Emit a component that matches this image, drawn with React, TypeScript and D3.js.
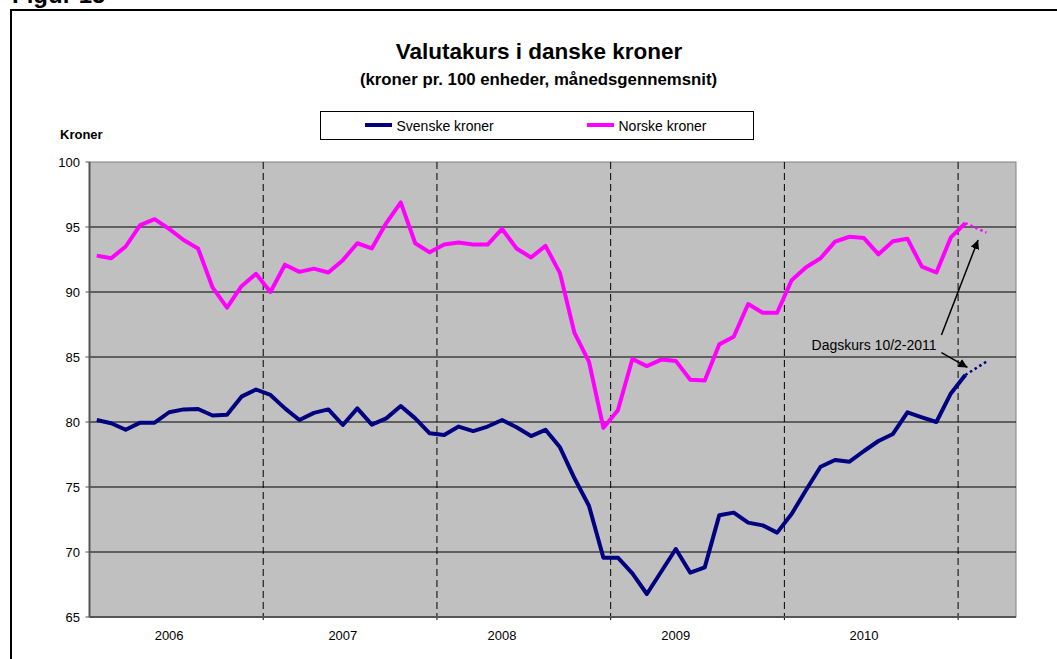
import React from 'react';
import * as d3 from 'd3';

// ---- data ----
const seriesNames = ['Svenske kroner', 'Norske kroner'];
const seriesColors = ['#000080', '#FF00FF'];
const years = ['2006', '2007', '2008', '2009', '2010'];
const yearLabelMonth = [5, 17, 28, 40, 53];
const yTicks = [65, 70, 75, 80, 85, 90, 95, 100];
const yearBoundaries = [12, 24, 36, 48, 60];

const sek = [
  80.15, 79.9, 79.4, 79.95, 79.95, 80.75, 80.97, 81.0, 80.5, 80.55, 81.95, 82.5,
  82.08, 81.05, 80.15, 80.7, 80.97, 79.77, 81.05, 79.8, 80.28, 81.23, 80.28, 79.13,
  79.0, 79.65, 79.3, 79.65, 80.15, 79.6, 78.92, 79.4, 78.05, 75.67, 73.56, 69.56,
  69.56, 68.36, 66.77, 68.5, 70.23, 68.41, 68.82, 72.82, 73.03, 72.26, 72.05, 71.49,
  72.92, 74.77, 76.56, 77.08, 76.95, 77.77, 78.54, 79.08, 80.74, 80.36, 80.0, 82.2,
  83.62,
];
const nok = [
  92.8, 92.6, 93.5, 95.15, 95.6, 94.85, 94.0, 93.35, 90.35, 88.8, 90.45, 91.4,
  90.0, 92.1, 91.55, 91.8, 91.5, 92.45, 93.75, 93.35, 95.3, 96.9, 93.75, 93.05,
  93.65, 93.8, 93.65, 93.65, 94.85, 93.35, 92.65, 93.55, 91.45, 86.85, 84.65, 79.55,
  80.9, 84.85, 84.3, 84.8, 84.7, 83.25, 83.2, 85.97, 86.56, 89.08, 88.4, 88.4,
  90.9, 91.9, 92.6, 93.87, 94.25, 94.15, 92.9, 93.9, 94.1, 91.95, 91.5, 94.2,
  95.3,
];
const dagskursPos = 61.46; // month index of 10/2-2011
const dagskurs = [84.64, 94.56];
const annotationText = 'Dagskurs 10/2-2011';

const totalMonths = 64;

export default function App() {
  const W = 1057, H = 659;
  const left = 89.5, right = 1016, top = 162, bottom = 617;
  const x = d3.scaleLinear().domain([0, totalMonths]).range([left, right]);
  const y = d3.scaleLinear().domain([65, 100]).range([bottom, top]);
  const cx = (i: number) => x(i + 0.5);
  const line = d3.line<[number, number]>().x(d => cx(d[0])).y(d => y(d[1]));
  const series = [sek, nok];
  const font = 'Arial, "Liberation Sans", Helvetica, sans-serif';

  return (
    <svg width={W} height={H} style={{ position: 'absolute', left: 0, top: 0, background: '#fff' }} fontFamily={font}>
      <defs>
        <marker id="arr" viewBox="0 0 10 10" refX="10" refY="5" markerWidth="9" markerHeight="9" markerUnits="userSpaceOnUse" orient="auto">
          <path d="M0,0 L10,5 L0,10 z" fill="#000" />
        </marker>
      </defs>
      <text x={12} y={2.5} fontSize={24} fontWeight="bold">Figur 15</text>
      <rect x={11} y={10} width={1100} height={700} fill="#fff" stroke="#000" strokeWidth={2} />

      <text x={539} y={59} textAnchor="middle" fontSize={22.5} fontWeight="bold">Valutakurs i danske kroner</text>
      <text x={538.5} y={85} textAnchor="middle" fontSize={16.8} fontWeight="bold">(kroner pr. 100 enheder, månedsgennemsnit)</text>

      {/* legend */}
      <rect x={320.5} y={111.5} width={433} height={28} fill="#fff" stroke="#000" strokeWidth={1} />
      {seriesNames.map((n, k) => {
        const lx = k === 0 ? 365 : 587;
        return (
          <g key={n}>
            <line x1={lx} x2={lx + 27} y1={125} y2={125} stroke={seriesColors[k]} strokeWidth={4} />
            <text x={lx + 31.5} y={130.5} fontSize={14}>{n}</text>
          </g>
        );
      })}

      <text x={60} y={139} fontSize={13} fontWeight="bold">Kroner</text>

      {/* plot area */}
      <rect x={left} y={top} width={right - left} height={bottom - top} fill="#C0C0C0" stroke="#808080" strokeWidth={1} />
      {yTicks.filter(t => t > 65 && t < 100).map(t => (
        <line key={t} x1={left} x2={right} y1={y(t)} y2={y(t)} stroke="#000" strokeWidth={1} />
      ))}
      {yearBoundaries.map(b => (
        <line key={b} x1={x(b)} x2={x(b)} y1={top} y2={bottom + 4} stroke="#000" strokeWidth={1} strokeDasharray="7,4" />
      ))}
      {/* axes */}
      <line x1={left} x2={left} y1={top} y2={bottom} stroke="#555" strokeWidth={2} />
      <line x1={left} x2={right} y1={bottom} y2={bottom} stroke="#555" strokeWidth={2} />
      {yTicks.map(t => (
        <g key={t}>
          <line x1={left - 4} x2={left} y1={y(t)} y2={y(t)} stroke="#555" strokeWidth={1} />
          <text x={80} y={y(t) + 4.5} textAnchor="end" fontSize={13}>{t}</text>
        </g>
      ))}
      {years.map((yr, k) => (
        <text key={yr} x={cx(yearLabelMonth[k])} y={640} textAnchor="middle" fontSize={13}>{yr}</text>
      ))}

      {/* series */}
      {series.map((s, k) => (
        <g key={k}>
          <path d={line(s.map((v, i) => [i, v] as [number, number])) || ''} fill="none" stroke={seriesColors[k]} strokeWidth={4} strokeLinejoin="round" />
          <path d={line([[s.length - 1, s[s.length - 1]], [dagskursPos, dagskurs[k]]]) || ''} fill="none" stroke={seriesColors[k]} strokeWidth={2.5} strokeDasharray="2.5,3" />
        </g>
      ))}

      {/* annotation */}
      <text x={cx(49.38)} y={y(85.54)} fontSize={14}>{annotationText}</text>
      <line x1={cx(58.35)} y1={y(86.7)} x2={cx(60.88)} y2={y(94.0)} stroke="#000" strokeWidth={1.5} markerEnd="url(#arr)" />
      <line x1={cx(58.35)} y1={y(85.33)} x2={cx(60.15)} y2={y(84.2)} stroke="#000" strokeWidth={1.5} markerEnd="url(#arr)" />
    </svg>
  );
}
